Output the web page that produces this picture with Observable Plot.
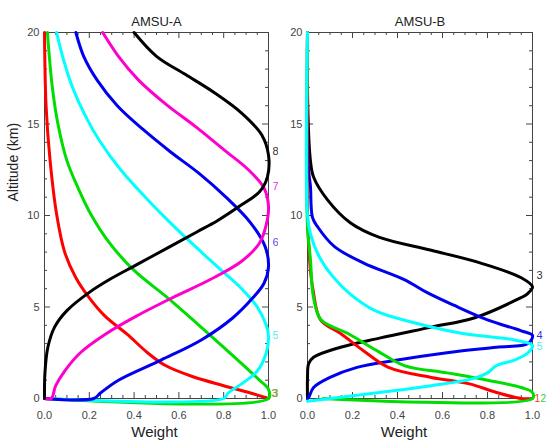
<!DOCTYPE html>
<html><head><meta charset="utf-8">
<script src="https://cdn.jsdelivr.net/npm/d3@7"></script>
<script src="https://cdn.jsdelivr.net/npm/@observablehq/plot@0.6"></script>
<style>
body{margin:0;background:#fff;width:546px;height:443px;position:relative;overflow:hidden;font-family:"Liberation Sans",Arial,sans-serif}
#a{position:absolute;left:0;top:0}
#b{position:absolute;left:278px;top:0}
</style></head><body><div id="a"></div><div id="b"></div>
<script>
// ---- data ----
const panelTitles = ["AMSU-A", "AMSU-B"];
const xLabel = "Weight";
const yLabel = "Altitude (km)";
const xTicks = [0, 0.2, 0.4, 0.6, 0.8, 1.0];
const xMinor = [0.05,0.1,0.15,0.25,0.3,0.35,0.45,0.5,0.55,0.65,0.7,0.75,0.85,0.9,0.95];
const yTicks = [0, 5, 10, 15, 20];
const yMinor = [1,2,3,4,6,7,8,9,11,12,13,14,16,17,18,19];

// AMSU-A weighting functions: [weight, altitude km]
const aCh3 = [[0,20],[0.007,16],[0.025,13],[0.055,10],[0.09,8],[0.14,6.6],[0.2,5.5],[0.27,4.5],[0.37,3.5],[0.46,2.5],[0.54,1.8],[0.66,1.2],[0.8,0.7],[0.92,0.3],[1.0,0]];
const aCh4 = [[0.013,20],[0.035,17],[0.06,15],[0.10,13],[0.15,11.5],[0.21,10],[0.29,8.5],[0.40,7],[0.55,5.5],[0.69,4],[0.80,2.8],[0.89,1.8],[0.96,1.0],[1.0,0.5],[1.0,0],[0,0]];
const aCh5 = [[0.054,20],[0.085,18.5],[0.125,17],[0.18,15.5],[0.25,14],[0.34,12.5],[0.45,11],[0.57,9.5],[0.70,8],[0.79,7],[0.88,6],[0.95,5],[0.99,4],[1.0,3.4],[0.99,2.5],[0.95,1.5],[0.88,0.8],[0.82,0.3],[0.80,0],[0,0]];
const aCh6 = [[0.14,20],[0.175,18.7],[0.235,17.4],[0.325,16],[0.44,14.7],[0.56,13.5],[0.69,12.3],[0.81,11],[0.92,9.6],[0.985,8.3],[1.0,7.2],[0.98,6.3],[0.93,5.5],[0.84,4.4],[0.70,3.2],[0.52,2.1],[0.33,1.0],[0.25,0.3],[0.22,0],[0,0]];
const aCh7 = [[0.26,20],[0.33,18.7],[0.42,17.4],[0.54,16.1],[0.68,14.8],[0.80,13.6],[0.91,12.5],[0.98,11.5],[1.0,10.5],[0.99,9.5],[0.96,8.5],[0.88,7.5],[0.74,6.5],[0.57,5.5],[0.41,4.5],[0.27,3.5],[0.16,2.5],[0.09,1.5],[0.05,0.7],[0.03,0],[0,0]];
const aCh8 = [[0.40,20],[0.50,18.7],[0.63,17.7],[0.76,16.7],[0.88,15.6],[0.97,14.4],[1.0,13.3],[0.995,12.1],[0.96,11.3],[0.87,10.5],[0.77,9.7],[0.68,9.1],[0.56,8.3],[0.41,7.3],[0.29,6.5],[0.20,5.8],[0.10,4.8],[0.045,3.9],[0.015,2.8],[0.002,1.4],[0,0]];

// AMSU-B weighting functions
const bCh1 = [[0,20],[0,10],[0.005,8.5],[0.013,7],[0.025,5.9],[0.058,4.3],[0.147,3.55],[0.25,2.6],[0.36,1.7],[0.55,1.15],[0.72,0.8],[0.84,0.33],[0.95,0],[1.0,0]];
const bCh2 = [[0,20],[0,9.4],[0.013,7.6],[0.027,5.5],[0.06,4.3],[0.18,3.55],[0.31,2.6],[0.43,1.8],[0.62,1.4],[0.80,1.0],[0.95,0.6],[1.0,0.33],[1.0,0],[0.07,0]];
const bCh3 = [[0,20],[0.002,15.5],[0.013,13],[0.027,12.1],[0.089,10.85],[0.19,9.6],[0.32,8.8],[0.55,8.1],[0.77,7.4],[0.95,6.6],[1.0,6.1],[0.98,5.75],[0.93,5.4],[0.74,4.4],[0.55,3.9],[0.32,3.3],[0.147,2.8],[0.027,2.25],[0.005,1.9],[0,1.15],[0,0]];
const bCh4 = [[0,20],[0.005,12.5],[0.013,11.6],[0.022,9.9],[0.044,9.4],[0.12,8.3],[0.25,7.4],[0.43,6.5],[0.53,5.8],[0.65,5.1],[0.80,4.3],[0.95,3.7],[1.0,3.45],[0.98,3.0],[0.84,2.8],[0.62,2.5],[0.40,2.1],[0.22,1.7],[0.10,1.15],[0.027,0.6],[0.005,0.05],[0,0]];
const bCh5 = [[0,20],[0,10],[0.013,9.0],[0.05,7.8],[0.11,6.7],[0.19,5.7],[0.30,4.8],[0.47,4.15],[0.69,3.55],[0.92,3.2],[1.0,2.9],[0.98,2.5],[0.92,2.1],[0.84,1.8],[0.80,1.4],[0.74,1.1],[0.55,0.7],[0.32,0.33],[0.10,0],[0,-0.15]];

const colors = {red:"#ff0000", green:"#00dd00", cyan:"#00ffff", blue:"#0000ee", magenta:"#ff00cc", black:"#000000"};

const seriesA = [
  {pts:aCh3, color:colors.red}, {pts:aCh4, color:colors.green}, {pts:aCh5, color:colors.cyan},
  {pts:aCh6, color:colors.blue}, {pts:aCh7, color:colors.magenta}, {pts:aCh8, color:colors.black}
];
const seriesB = [
  {pts:bCh3, color:colors.black}, {pts:bCh4, color:colors.blue}, {pts:bCh1, color:colors.red},
  {pts:bCh2, color:colors.green}, {pts:bCh5, color:colors.cyan}
];

// channel labels at the right edge
const aLabelText = ["8","7","6","5","3","3"];
const aLabelAlt = [13.5, 11.6, 8.5, 3.45, 0.25, 0.25];
const aLabelColor = ["#333333","#e23ad9","#5555ee","#55eeee","#ee4444","#44cc44"];
const aLabelDx = [4,4,4,4,3,4];
const aLabelSize = [11,11,11,11,11,11];
const bLabelText = ["3","4","5","1","2"];
const bLabelAlt = [6.7, 3.45, 2.85, 0, 0];
const bLabelColor = ["#333333","#3333dd","#55eeee","#ee3333","#33cc33"];
const bLabelDx = [4,4,4,2,8];
const bLabelSize = [11,11,11,10,10];

function panel({width, marginLeft, marginRight, series, title, labelText, labelAlt, labelColor, labelDx, labelSize, showY, weightDx}) {
  const height = 443, marginTop = 32, marginBottom = 45;
  const innerH = height - marginTop - marginBottom;
  const innerW = width - marginLeft - marginRight;
  const labels = labelText.map((t, i) => ({t, alt: labelAlt[i], c: labelColor[i], dx: labelDx[i], fs: labelSize[i]}));
  const marks = [
    Plot.frame({stroke: "#444", strokeWidth: 1}),
    Plot.tickX(xTicks, {x: d => d, insetTop: innerH - 6, stroke: "#444"}),
    Plot.tickX(xTicks, {x: d => d, insetBottom: innerH - 6, stroke: "#444"}),
    Plot.tickX(xMinor, {x: d => d, insetTop: innerH - 3, stroke: "#444"}),
    Plot.tickX(xMinor, {x: d => d, insetBottom: innerH - 3, stroke: "#444"}),
    Plot.tickY(yTicks, {y: d => d, insetRight: innerW - 6, stroke: "#444"}),
    Plot.tickY(yTicks, {y: d => d, insetLeft: innerW - 6, stroke: "#444"}),
    Plot.tickY(yMinor, {y: d => d, insetRight: innerW - 3, stroke: "#444"}),
    Plot.tickY(yMinor, {y: d => d, insetLeft: innerW - 3, stroke: "#444"}),
    Plot.axisX({ticks: xTicks, tickSize: 0, tickPadding: 13, tickFormat: d3.format(".1f"), label: null, fontSize: 11}),
    Plot.axisY({ticks: yTicks, tickSize: 0, tickPadding: 5, label: null, fontSize: 11}),
    ...series.map(s => Plot.line(s.pts, {x: d => d[0], y: d => d[1], stroke: s.color, strokeWidth: 3, curve: "catmull-rom"})),
    ...labels.map(l => Plot.text([l], {x: () => 1, y: d => d.alt, text: d => d.t, fill: l.c, dx: l.dx, textAnchor: "start", fontSize: l.fs})),
    Plot.text([title], {frameAnchor: "top", dy: -16, text: d => d, fontSize: 13, fill: "#222"}),
    Plot.text([xLabel], {frameAnchor: "bottom", dy: 38, dx: weightDx, text: d => d, fontSize: 15, fill: "#222"})
  ];
  if (showY) marks.push(Plot.text([yLabel], {frameAnchor: "left", rotate: -90, dx: -31, dy: -14, text: d => d, fontSize: 14, fill: "#222"}));
  return Plot.plot({
    width, height, marginLeft, marginRight, marginTop, marginBottom,
    style: {fontFamily: '"Liberation Sans", Arial, sans-serif', color: "#444", background: "white", overflow: "visible"},
    x: {domain: [0, 1]},
    y: {domain: [0, 20]},
    marks
  });
}

document.getElementById("a").append(panel({
  width: 278, marginLeft: 44, marginRight: 10, series: seriesA, title: panelTitles[0],
  labelText: aLabelText, labelAlt: aLabelAlt, labelColor: aLabelColor, labelDx: aLabelDx, labelSize: aLabelSize, showY: true, weightDx: -2
}));
document.getElementById("b").append(panel({
  width: 268, marginLeft: 29, marginRight: 14, series: seriesB, title: panelTitles[1],
  labelText: bLabelText, labelAlt: bLabelAlt, labelColor: bLabelColor, labelDx: bLabelDx, labelSize: bLabelSize, showY: false, weightDx: -16
}));
</script>
</body></html>
